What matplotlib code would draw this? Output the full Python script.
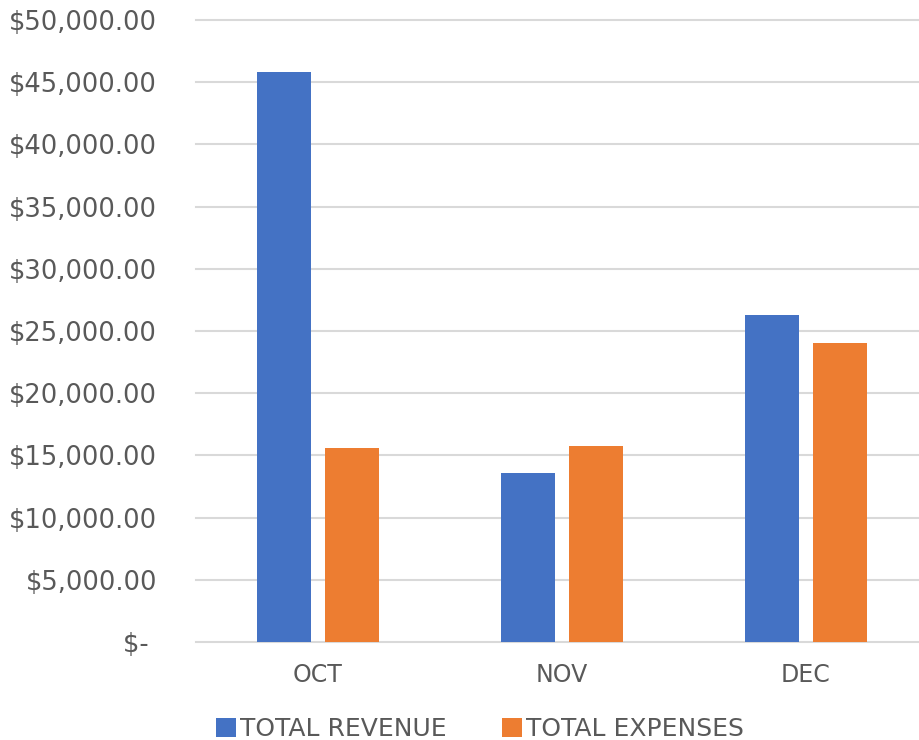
import matplotlib
matplotlib.use("Agg")
import matplotlib.pyplot as plt
import numpy as np

months = ["OCT", "NOV", "DEC"]
revenue = [45800, 13600, 26300]
expenses = [15600, 15750, 24000]
yticks = [0, 5000, 10000, 15000, 20000, 25000, 30000, 35000, 40000, 45000, 50000]

BLUE = "#4472C4"
ORANGE = "#ED7D31"
TEXT = "#595959"
GRID = "#D9D9D9"

plt.rcParams["font.family"] = ["DejaVu Sans"]

fig = plt.figure(figsize=(9.2, 7.4), dpi=100)
ax = fig.add_axes([196 / 920, 1 - 642 / 740, 732 / 920, 622 / 740])

x = np.arange(len(months))
w = 0.222
off = 0.14
ax.bar(x - off, revenue, w, color=BLUE, label="TOTAL REVENUE", zorder=3)
ax.bar(x + off, expenses, w, color=ORANGE, label="TOTAL EXPENSES", zorder=3)

ax.set_xlim(-0.5, 2.5)
ax.set_ylim(0, 50000)
ax.set_yticks(yticks)
ax.set_yticklabels(["$- " if v == 0 else f"${v:,.2f}" for v in yticks])
ax.set_xticks(x)
ax.set_xticklabels(months)
ax.tick_params(axis="y", length=0, pad=28, labelsize=18.5, labelcolor=TEXT)
ax.tick_params(axis="x", length=0, pad=15, labelsize=17, labelcolor=TEXT)
for v in yticks:
    ax.axhline(v, color=GRID, linewidth=1.5, zorder=0, clip_on=False)
for s in ax.spines.values():
    s.set_visible(False)

leg = fig.legend(loc="lower center", bbox_to_anchor=(480 / 920, -0.032), ncol=2,
                 frameon=False, fontsize=18, handlelength=0.8, handleheight=0.8,
                 handletextpad=0.15, columnspacing=2.2)
for t in leg.get_texts():
    t.set_color(TEXT)

fig.savefig("out.png", dpi=100)
